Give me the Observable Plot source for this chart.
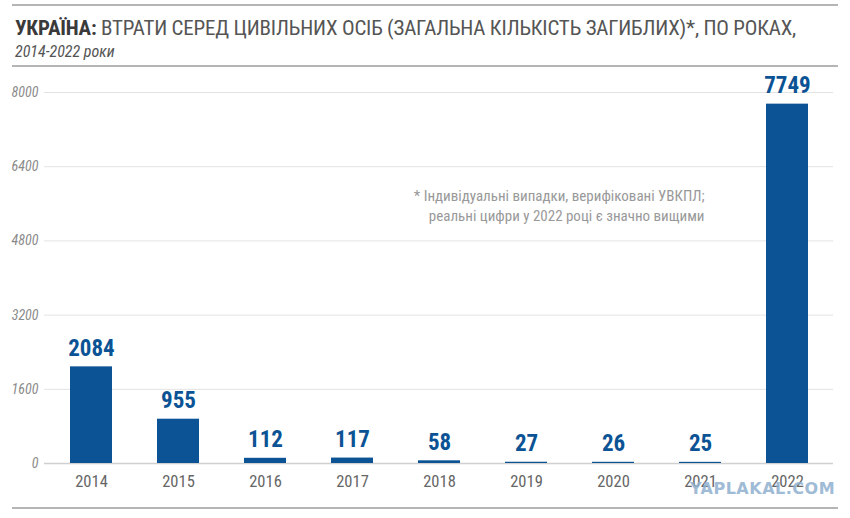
<!DOCTYPE html>
<html>
<head>
<meta charset="utf-8">
<script src="https://cdn.jsdelivr.net/npm/d3@7"></script>
<script src="https://cdn.jsdelivr.net/npm/@observablehq/plot@0.6"></script>
<style>
  html, body { margin: 0; padding: 0; background: #fff; }
  body { width: 850px; height: 518px; overflow: hidden; font-family: "Roboto Condensed", "Liberation Sans Narrow", "DejaVu Sans Condensed", Roboto, sans-serif; font-stretch: condensed; }
  #head { position: absolute; left: 12px; top: 4px; width: 826px; border-top: 2px solid #b5b5b5; border-bottom: 2px solid #b5b5b5; height: 63px; box-sizing: border-box; }
  #title { position: absolute; left: 3px; top: 10px; font-size: 21px; color: #555; white-space: nowrap; letter-spacing: -0.2px; }
  #title b { color: #3a3a3a; font-weight: 700; }
  #sub { position: absolute; left: 3px; top: 36px; font-size: 16px; font-style: italic; color: #555; }
  #chart { position: absolute; left: 0; top: 67px; }
  #foot { position: absolute; left: 12px; top: 507px; width: 826px; border-top: 2px solid #b5b5b5; }
  svg text { font-family: "Roboto Condensed", "Liberation Sans Narrow", "DejaVu Sans Condensed", Roboto, sans-serif; }
</style>
</head>
<body>
<div id="head">
  <div id="title"><b>УКРАЇНА:</b> ВТРАТИ СЕРЕД ЦИВІЛЬНИХ ОСІБ (ЗАГАЛЬНА КІЛЬКІСТЬ ЗАГИБЛИХ)*, ПО РОКАХ,</div>
  <div id="sub">2014-2022 роки</div>
</div>
<div id="chart"></div>
<div id="foot"></div>
<script>
const years = ["2014","2015","2016","2017","2018","2019","2020","2021","2022"];
const deaths = [2084, 955, 112, 117, 58, 27, 26, 25, 7749];
const yTicks = [0, 1600, 3200, 4800, 6400, 8000];
const note = "* Індивідуальні випадки, верифіковані УВКПЛ;\nреальні цифри у 2022 році є значно вищими";
const noteYear = "2021";
const noteValue = 5580;

const data = years.map((y, i) => ({year: y, value: deaths[i]}));
const blue = "#0b5394";

const chart = Plot.plot({
  width: 850,
  height: 441,
  marginTop: 25,
  marginBottom: 45,
  marginLeft: 44,
  marginRight: 17,
  x: { domain: years, paddingInner: 0.52, paddingOuter: 0.26, label: null },
  y: { domain: [0, 8000], label: null },
  marks: [
    Plot.ruleY(yTicks.filter(d => d > 0), { stroke: "#e3e3e3", strokeWidth: 1 }),
    Plot.ruleY([0], { stroke: "#d0d0d0", strokeWidth: 1.5 }),
    Plot.barY(data, { x: "year", y: "value", fill: blue }),
    Plot.text(data, { x: "year", y: "value", text: d => String(d.value), lineAnchor: "bottom", dy: -11, fill: blue, fontSize: 23, fontWeight: "bold" }),
    Plot.axisY({ ticks: yTicks, tickSize: 0, tickPadding: 6, tickFormat: d => String(d), fontStyle: "italic", fontSize: 14, fill: "#8a8a8a", label: null }),
    Plot.axisX({ tickSize: 0, tickPadding: 12, fontSize: 16.5, fill: "#666", label: null }),
    Plot.text([note], { x: () => noteYear, y: () => noteValue, text: d => d, textAnchor: "end", lineAnchor: "middle", dx: 4, fontSize: 15, fill: "#999", lineHeight: 1.35 })
  ]
});
document.getElementById("chart").appendChild(chart);

const wm = document.createElement("div");
wm.textContent = "YAPLAKAL.COM";
wm.style.cssText = "position:absolute;left:690px;top:479px;font:bold 16px 'DejaVu Sans',sans-serif;color:#8fb0cf;opacity:0.85;letter-spacing:0.5px;";
document.body.appendChild(wm);
</script>
</body>
</html>
